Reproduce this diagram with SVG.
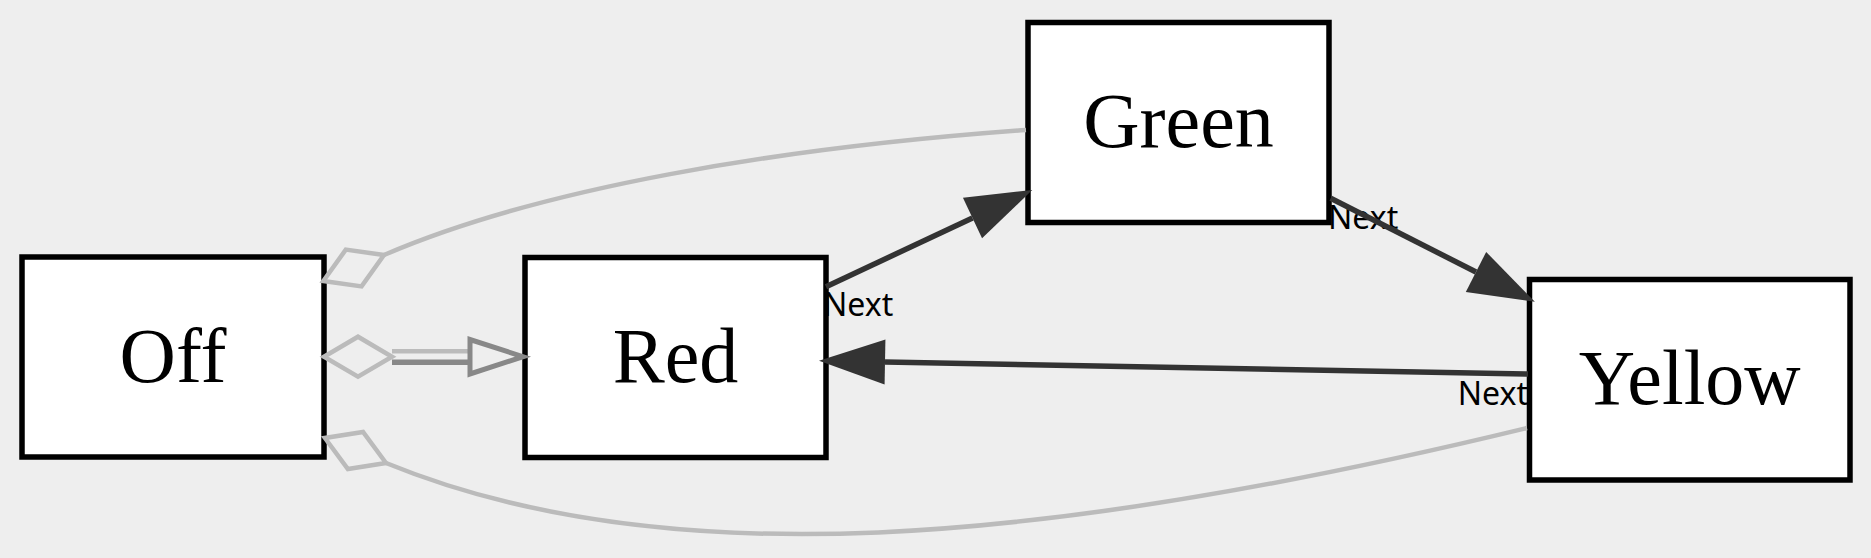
<svg xmlns="http://www.w3.org/2000/svg" width="1871" height="558" viewBox="0 0 1871 558">
<style>
.node rect{fill:#fff;stroke:#000;stroke-width:5.5}
.node text{font-family:"Liberation Serif","Times New Roman",serif;font-size:78px;fill:#000;text-anchor:middle}
.lbl{font-family:"Noto Sans","Open Sans",sans-serif;font-size:32px;fill:#000}
.dark{fill:none;stroke:#333;stroke-width:5.5}
.light{fill:none;stroke:#bbb;stroke-width:4.5}
.mid{fill:none;stroke:#888;stroke-width:5.5}
.dia{fill:#eee;stroke:#bbb;stroke-width:4.5}
.tri{fill:#eee;stroke:#888;stroke-width:5}
</style>
<defs>
<marker id="arrow" markerUnits="userSpaceOnUse" markerWidth="70" markerHeight="50" refX="0" refY="0" orient="auto" overflow="visible">
<path d="M0,-22.5 L66,0 L0,22.5 Z" fill="#333"/>
</marker>
<marker id="diamond" markerUnits="userSpaceOnUse" markerWidth="80" markerHeight="50" refX="0" refY="0" orient="auto" overflow="visible">
<path d="M0,0 L33,-20 L66,0 L33,20 Z" class="dia"/>
</marker>
</defs>
<rect width="1871" height="558" fill="#eee"/>
<g id="edge-labels">
<text class="lbl" x="823" y="316">Next</text>
<text class="lbl" x="1328" y="229">Next</text>
<text class="lbl" x="1528" y="405" text-anchor="end">Next</text>
</g>
<g id="node-off" class="node"><rect x="22" y="257" width="302" height="200"/><text x="173" y="382">Off</text></g>
<g id="node-red" class="node"><rect x="525" y="257.5" width="301" height="200"/><text x="675.5" y="382">Red</text></g>
<g id="node-green" class="node"><rect x="1028" y="22.5" width="301" height="200"/><text x="1178.5" y="147">Green</text></g>
<g id="node-yellow" class="node"><rect x="1529.5" y="279.5" width="320.5" height="200.5"/><text x="1689.75" y="404">Yellow</text></g>
<g id="connectors">
<path class="dark" d="M826,286.7 L972.5,218" marker-end="url(#arrow)"/>
<path class="dark" d="M1330.7,198.3 L1476,272" marker-end="url(#arrow)"/>
<path class="dark" d="M1528,374 L885,362" marker-end="url(#arrow)"/>
<path class="light" d="M1026,130 C777,148 540,188 384,255" marker-end="url(#diamond)"/>
<path class="light" d="M1527,428 C1041,546 663.5,576.7 386,463" marker-end="url(#diamond)"/>
<polygon class="dia" points="324,356.7 358,336.7 392,356.7 358,376.7"/>
<path class="light" d="M392,351.3 L470,351.3"/>
<path class="mid" d="M392,362.2 L470,362.2"/>
<polygon class="tri" points="470,339.5 470,374 523,356.7"/>
</g>
</svg>
